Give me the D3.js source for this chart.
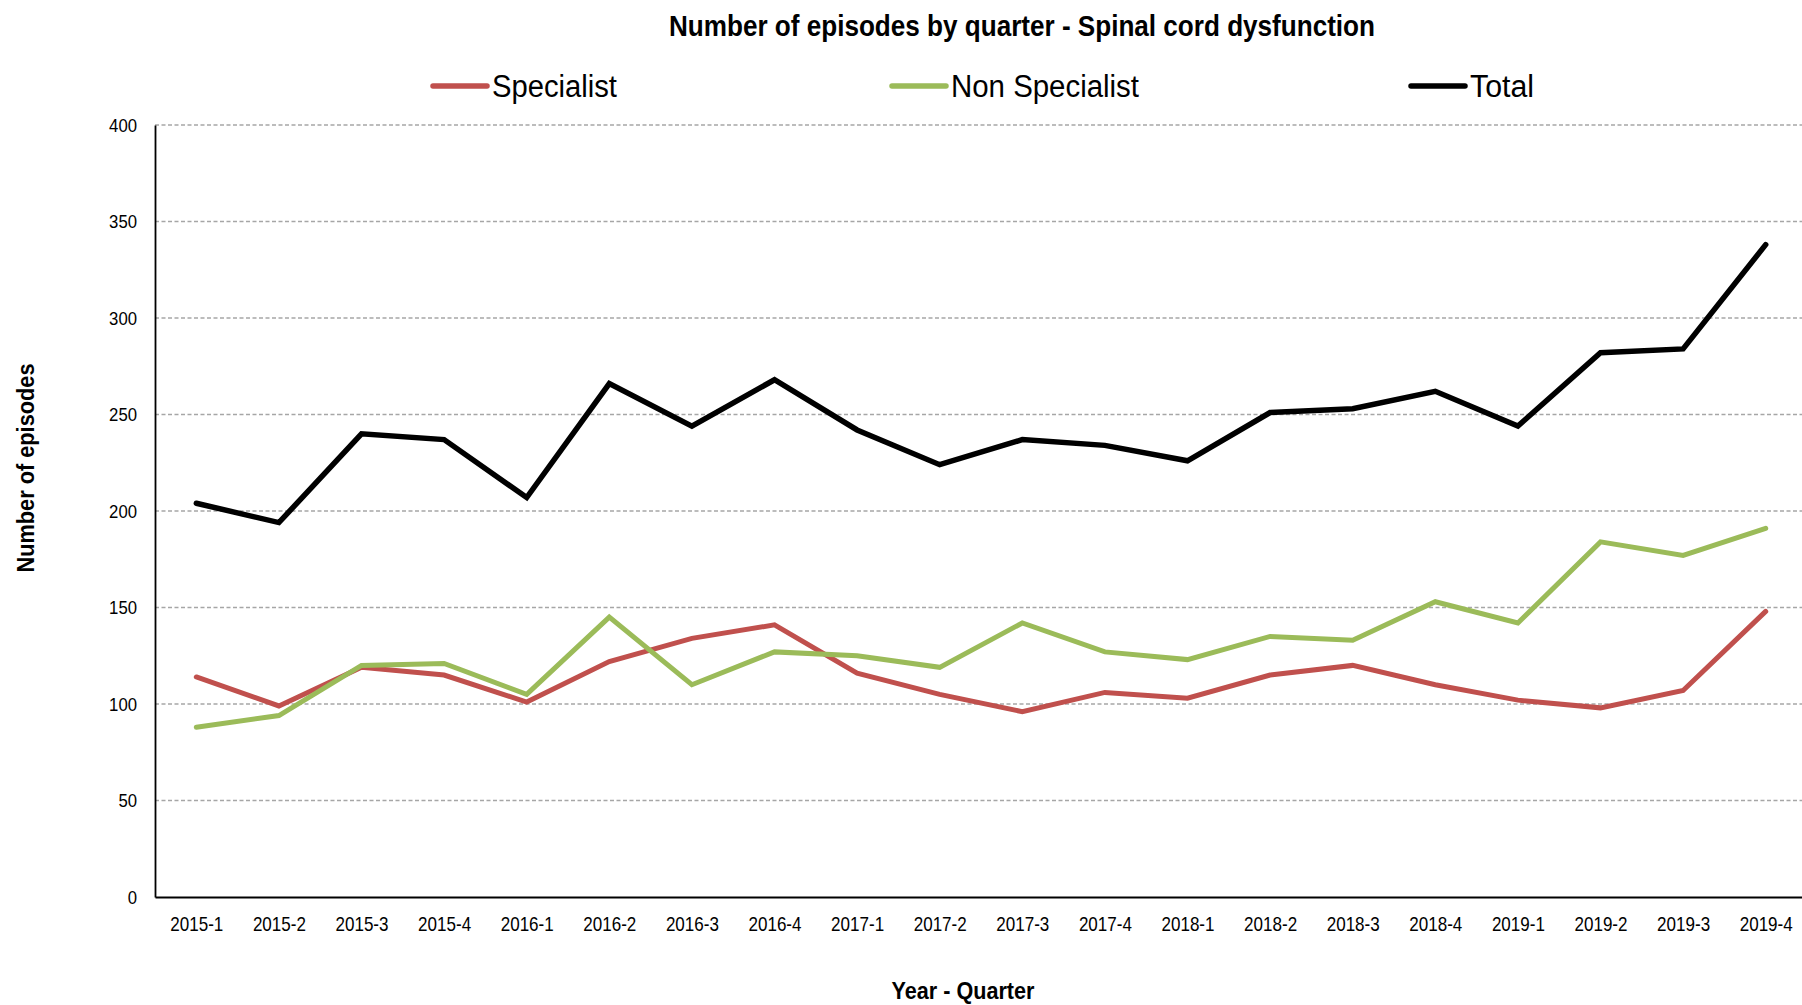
<!DOCTYPE html>
<html>
<head>
<meta charset="utf-8">
<script src="https://cdn.jsdelivr.net/npm/d3@7"></script>
<style>
  body { margin: 0; background: #fff; }
  text { font-family: "Liberation Sans Narrow", "Arial Narrow", "Liberation Sans", Arial, sans-serif; fill: #000; }
</style>
</head>
<body>
<svg id="chart" width="1802" height="1005"></svg>
<script>
// quarters on the x axis
var quarters = ["2015-1", "2015-2", "2015-3", "2015-4", "2016-1", "2016-2", "2016-3", "2016-4",
  "2017-1", "2017-2", "2017-3", "2017-4", "2018-1", "2018-2", "2018-3", "2018-4",
  "2019-1", "2019-2", "2019-3", "2019-4"];

// episodes per quarter
var specialist = [114, 99, 119, 115, 101, 122, 134, 141, 116, 105, 96, 106, 103, 115, 120, 110, 102, 98, 107, 148];
var nonSpecialist = [88, 94, 120, 121, 105, 145, 110, 127, 125, 119, 142, 127, 123, 135, 133, 153, 142, 184, 177, 191];
var total = [204, 194, 240, 237, 207, 266, 244, 268, 242, 224, 237, 234, 226, 251, 253, 262, 244, 282, 284, 338];

var yTicks = [0, 50, 100, 150, 200, 250, 300, 350, 400];
var seriesNames = ["Specialist", "Non Specialist", "Total"];

var series = [
  { name: seriesNames[0], values: specialist, color: "#c0504d", width: 5 },
  { name: seriesNames[1], values: nonSpecialist, color: "#9bbb59", width: 5 },
  { name: seriesNames[2], values: total, color: "#000000", width: 5.5 }
];

var W = 1802, H = 1005;
var plotLeft = 155, plotRight = 1807, plotTop = 125, plotBottom = 897;

var svg = d3.select("#chart");

// squeeze a text to a given width (the original uses a narrow font)
function squeeze(sel, w) {
  sel.attr("textLength", w).attr("lengthAdjust", "spacingAndGlyphs");
}

var x = d3.scalePoint()
  .domain(quarters)
  .range([plotLeft, plotRight])
  .padding(0.5);

var y = d3.scaleLinear()
  .domain([0, 400])
  .range([plotBottom, plotTop]);

// gridlines
svg.append("g")
  .selectAll("line")
  .data(yTicks.filter(function (d) { return d > 0; }))
  .enter()
  .append("line")
  .attr("x1", plotLeft)
  .attr("x2", W)
  .attr("y1", function (d) { return y(d); })
  .attr("y2", function (d) { return y(d); })
  .attr("stroke", "#a6a6a6")
  .attr("stroke-width", 1.5)
  .attr("stroke-dasharray", "4,2.5");

// y axis
var yAxis = svg.append("g")
  .attr("transform", "translate(" + plotLeft + ",0)")
  .call(d3.axisLeft(y).tickValues(yTicks).tickSize(0).tickPadding(18));
yAxis.select(".domain").attr("stroke", "#000").attr("stroke-width", 1.8);
yAxis.selectAll("text")
  .attr("font-size", "19px")
  .attr("font-family", null)
  .each(function () { squeeze(d3.select(this), this.getComputedTextLength() * 0.88); });

// x axis
var xAxis = svg.append("g")
  .attr("transform", "translate(0," + plotBottom + ")")
  .call(d3.axisBottom(x).tickSize(0).tickPadding(19));
xAxis.select(".domain").attr("stroke", "#000").attr("stroke-width", 1.8);
xAxis.selectAll("text")
  .attr("font-size", "21px")
  .attr("font-family", null)
  .call(squeeze, 53);

// lines
var line = d3.line()
  .x(function (d, i) { return x(quarters[i]); })
  .y(function (d) { return y(d); });

series.forEach(function (s) {
  svg.append("path")
    .datum(s.values)
    .attr("fill", "none")
    .attr("stroke", s.color)
    .attr("stroke-width", s.width)
    .attr("stroke-linejoin", "miter")
    .attr("stroke-linecap", "round")
    .attr("d", line);
});

// title
svg.append("text")
  .attr("x", 1022)
  .attr("y", 36)
  .attr("text-anchor", "middle")
  .attr("font-size", "30px")
  .attr("font-weight", "bold")
  .text("Number of episodes by quarter - Spinal cord dysfunction")
  .call(squeeze, 706);

// legend
var legendX = [433, 892, 1411];
var legendW = [125, 188, 64];
var legend = svg.append("g")
  .selectAll("g")
  .data(series)
  .enter()
  .append("g")
  .attr("transform", function (d, i) { return "translate(" + legendX[i] + ",86)"; });
legend.append("line")
  .attr("x1", 0).attr("x2", 54)
  .attr("stroke", function (d) { return d.color; })
  .attr("stroke-width", 5.5)
  .attr("stroke-linecap", "round");
legend.append("text")
  .attr("x", 59)
  .attr("y", 11)
  .attr("font-size", "31px")
  .text(function (d) { return d.name; })
  .each(function (d, i) { squeeze(d3.select(this), legendW[i]); });

// axis titles
svg.append("text")
  .attr("transform", "translate(34,468) rotate(-90)")
  .attr("text-anchor", "middle")
  .attr("font-size", "23px")
  .attr("font-weight", "bold")
  .text("Number of episodes")
  .call(squeeze, 209);

svg.append("text")
  .attr("x", 963)
  .attr("y", 999)
  .attr("text-anchor", "middle")
  .attr("font-size", "23px")
  .attr("font-weight", "bold")
  .text("Year - Quarter")
  .call(squeeze, 143);
</script>
</body>
</html>
